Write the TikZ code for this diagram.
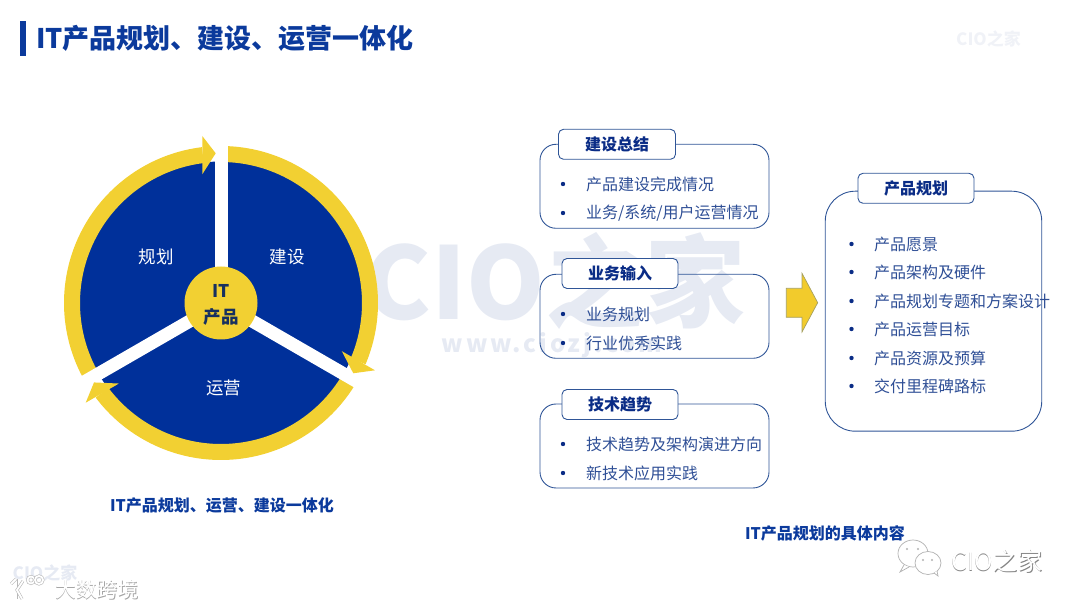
\documentclass[tikz,border=0pt]{standalone}
\usepackage{fontspec}
\setmainfont{Noto Sans CJK SC}
\usetikzlibrary{shapes.geometric}
\definecolor{wheelblue}{HTML}{00309A}
\definecolor{ringyellow}{HTML}{F2D032}
\definecolor{titleblue}{HTML}{0B3A9C}
\definecolor{boxline}{HTML}{2F5597}
\definecolor{listtext}{HTML}{2F4F96}
\definecolor{tabtext}{HTML}{0A2C86}
\definecolor{hubtext}{HTML}{17305F}
\definecolor{mark}{HTML}{E6EAF3}
\definecolor{markpale}{HTML}{F0F2F7}
\definecolor{arrowfill}{HTML}{F2CB2C}
\definecolor{arrowline}{HTML}{A5A060}
\newcommand{\px}[1]{\fontsize{#1}{#1}\selectfont}

\begin{document}
\begin{tikzpicture}[x=1pt,y=1pt,
  ring/.style={draw=ringyellow,line width=16pt},
  gapline/.style={draw=white,line width=13pt},
  head/.style={fill=ringyellow},
  panel/.style={rectangle,rounded corners=16pt,draw=boxline,line width=0.9pt,inner sep=0pt},
  tabbox/.style={rectangle,rounded corners=5pt,draw=boxline,line width=0.9pt,fill=white,inner sep=0pt,
    font=\px{16}\bfseries,text=tabtext},
  item/.style={anchor=west,inner sep=0pt,font=\px{16},text=listtext},
  dotmark/.style={circle,fill=tabtext,inner sep=0pt,minimum size=4.4pt},
  wheeltext/.style={font=\px{17.5},text=white},
  hubtxt/.style={font=\px{17.5}\bfseries,text=hubtext},
  caption/.style={font=\px{16}\bfseries,text=titleblue},
  emboss/.style={font=\px{25},text=black!48},
  embosstop/.style={font=\px{25},text=white},
  bubble/.style={draw=black!30,line width=0.7pt,fill=white},
  logoline/.style={draw=black!28,line width=0.6pt,double=white,double distance=1.8pt}]
\useasboundingbox (0,0) rectangle (1080,608);
\node[font=\px{100}\bfseries,text=mark] (markbig) at (555,327) {CIO之家};
\node[font=\addfontfeatures{LetterSpace=12}\px{24}\bfseries,text=mark] (markweb) at (552,263) {www.ciozj.com};
\node[font=\px{17}\bfseries,text=markpale] (marktop) at (988.5,569) {CIO之家};
\node[font=\px{17}\bfseries,text=mark] (marklow) at (45,35) {CIO之家};
\fill[titleblue] (19.5,551.5) rectangle (26,587);
\node[anchor=west,inner sep=0pt,font=\px{27}\bfseries,text=titleblue] (title) at (36,570) {IT产品规划、建设、运营一体化};
\coordinate (centre) at (221,305);
\fill[wheelblue] (centre) circle (141.5pt);
\begin{scope}[shift={(centre)}]
\draw[ring] (210:149) arc[start angle=210,end angle=97,radius=149pt];
\draw[ring] (90:149) arc[start angle=90,end angle=-23,radius=149pt];
\draw[ring] (-30:149) arc[start angle=-30,end angle=-143,radius=149pt];
\coordinate (gapa) at (90:170);
\coordinate (gapb) at (-30:170);
\coordinate (gapc) at (210:170);
\end{scope}
\draw[gapline] (centre) -- (gapa);
\draw[gapline] (centre) -- (gapb);
\draw[gapline] (centre) -- (gapc);
\fill[head,shift={(centre)}] (-18.7,167) -- (-5.3,149.7) -- (-18.7,128.7) -- cycle;
\fill[head,shift={(centre)},rotate=-120] (-18.7,167) -- (-5.3,149.7) -- (-18.7,128.7) -- cycle;
\fill[head,shift={(centre)},rotate=120] (-18.7,167) -- (-5.3,149.7) -- (-18.7,128.7) -- cycle;
\node[circle,fill=ringyellow,inner sep=0pt,minimum size=73pt] (hub) at (centre) {};
\node[hubtxt] (hubit) at (221,317) {IT};
\node[hubtxt] (hubname) at (221,291) {产品};
\node[wheeltext] (plan) at (156,351) {规划};
\node[wheeltext] (build) at (287,351) {建设};
\node[wheeltext] (operate) at (223.5,220) {运营};
\node[caption] (leftcap) at (222,103) {IT产品规划、运营、建设一体化};
\node[caption] (rightcap) at (825,75) {IT产品规划的具体内容};
\node[panel,minimum width=229pt,minimum height=84pt] (panela) at (654.5,421.7) {};
\node[tabbox,minimum width=117pt,minimum height=30pt] (taba) at (617,463.7) {建设总结};
\node[dotmark] (dota) at (563,424) {};
\node[item] (itema) at (586,424) {产品建设完成情况};
\node[dotmark] (dotb) at (563,395) {};
\node[item] (itemb) at (586,395) {业务/系统/用户运营情况};
\node[panel,minimum width=229pt,minimum height=84pt] (panelb) at (654.5,291.7) {};
\node[tabbox,minimum width=116pt,minimum height=30pt] (tabb) at (620,334.5) {业务输入};
\node[dotmark] (dotc) at (563,294) {};
\node[item] (itemc) at (586,294) {业务规划};
\node[dotmark] (dotd) at (563,265) {};
\node[item] (itemd) at (586,265) {行业优秀实践};
\node[panel,minimum width=229pt,minimum height=84pt] (panelc) at (654.5,162) {};
\node[tabbox,minimum width=116pt,minimum height=30pt] (tabc) at (620,203.5) {技术趋势};
\node[dotmark] (dote) at (563,164) {};
\node[item] (iteme) at (586,164) {技术趋势及架构演进方向};
\node[dotmark] (dotf) at (563,135) {};
\node[item] (itemf) at (586,135) {新技术应用实践};
\draw[draw=arrowline,fill=arrowfill,line width=0.7pt] (786.3,319.7) -- (802,319.7) -- (802,334.7) -- (817.7,305.3) -- (802,276) -- (802,290.7) -- (786.3,290.7) -- cycle;
\node[panel,rounded corners=30pt,minimum width=216.5pt,minimum height=240pt] (panelplan) at (933.5,296.8) {};
\node[tabbox,minimum width=116pt,minimum height=30pt] (tabplan) at (916,419.7) {产品规划};
\node[dotmark] (dotg) at (851.5,364) {};
\node[item] (itemg) at (874,364) {产品愿景};
\node[dotmark] (doth) at (851.5,336) {};
\node[item] (itemh) at (874,336) {产品架构及硬件};
\node[dotmark] (doti) at (851.5,307) {};
\node[item] (itemi) at (874,307) {产品规划专题和方案设计};
\node[dotmark] (dotj) at (851.5,279) {};
\node[item] (itemj) at (874,279) {产品运营目标};
\node[dotmark] (dotk) at (851.5,250) {};
\node[item] (itemk) at (874,250) {产品资源及预算};
\node[dotmark] (dotl) at (851.5,222) {};
\node[item] (iteml) at (874,222) {交付里程碑路标};
\draw[bubble] (913,54.5) ellipse (15pt and 13.5pt);
\draw[bubble] (904,43) -- (900,36) -- (909,41);
\draw[bubble] (928,45) ellipse (13pt and 11.5pt);
\draw[bubble] (934,35) -- (938,32) -- (937,37);
\fill[black!30] (907,59) circle (1.2pt) (918,59) circle (1.2pt) (923,48) circle (1.2pt) (932,48) circle (1.2pt);
\node[emboss] (wechatback) at (997.4,46.6) {CIO之家};
\node[embosstop] (wechat) at (997,47) {CIO之家};
\node[font=\px{21},text=black!35] (crossback) at (97.6,17.5) {大数跨境};
\node[font=\px{21},text=white] (cross) at (97,18) {大数跨境};
\draw[logoline] (16,29) -- (16,9);
\draw[logoline] (11,24) -- (16,29);
\draw[logoline] (22,9) -- (17,18) -- (23,27);
\draw[logoline] (31,28) circle (3.5pt);
\draw[logoline] (39,28) circle (4pt);
\end{tikzpicture}
\end{document}
